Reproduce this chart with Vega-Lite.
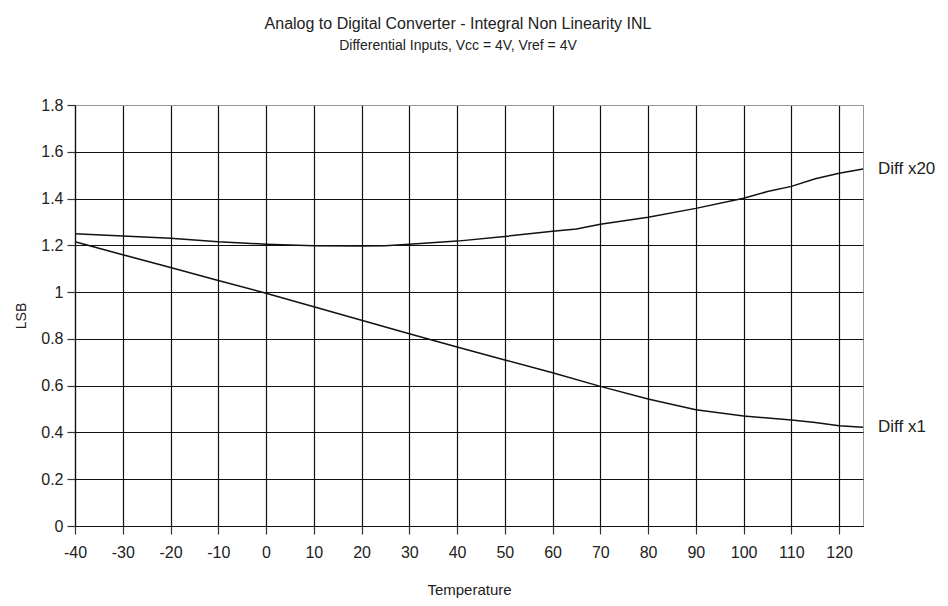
{
  "$schema": "https://vega.github.io/schema/vega-lite/v6.json",
  "autosize": "none",
  "width": 788,
  "height": 421,
  "padding": {"left": 75, "top": 105, "right": 85, "bottom": 80},
  "background": "white",
  "config": {"view": {"stroke": "#999999", "strokeWidth": 1}, "font": "Liberation Sans"},
  "title": {
    "text": "Analog to Digital Converter - Integral Non Linearity INL",
    "subtitle": "Differential Inputs, Vcc = 4V, Vref = 4V",
    "font": "Liberation Sans",
    "subtitleFont": "Liberation Sans",
    "fontSize": 16,
    "fontWeight": "normal",
    "subtitleFontSize": 14,
    "color": "#222",
    "subtitleColor": "#222",
    "subtitlePadding": 7,
    "anchor": "middle",
    "dx": -11,
    "offset": 44
  },
  "data": {"values": [
    {"t": -40, "v": 1.25, "s": "Diff x20"},
    {"t": -30, "v": 1.24, "s": "Diff x20"},
    {"t": -20, "v": 1.23, "s": "Diff x20"},
    {"t": -10, "v": 1.215, "s": "Diff x20"},
    {"t": 0, "v": 1.205, "s": "Diff x20"},
    {"t": 10, "v": 1.198, "s": "Diff x20"},
    {"t": 20, "v": 1.197, "s": "Diff x20"},
    {"t": 25, "v": 1.198, "s": "Diff x20"},
    {"t": 30, "v": 1.205, "s": "Diff x20"},
    {"t": 40, "v": 1.218, "s": "Diff x20"},
    {"t": 50, "v": 1.238, "s": "Diff x20"},
    {"t": 60, "v": 1.26, "s": "Diff x20"},
    {"t": 65, "v": 1.27, "s": "Diff x20"},
    {"t": 70, "v": 1.29, "s": "Diff x20"},
    {"t": 80, "v": 1.32, "s": "Diff x20"},
    {"t": 90, "v": 1.358, "s": "Diff x20"},
    {"t": 100, "v": 1.401, "s": "Diff x20"},
    {"t": 105, "v": 1.43, "s": "Diff x20"},
    {"t": 110, "v": 1.452, "s": "Diff x20"},
    {"t": 115, "v": 1.485, "s": "Diff x20"},
    {"t": 120, "v": 1.508, "s": "Diff x20"},
    {"t": 125, "v": 1.526, "s": "Diff x20"},
    {"t": -40, "v": 1.215, "s": "Diff x1"},
    {"t": -30, "v": 1.16, "s": "Diff x1"},
    {"t": -20, "v": 1.105, "s": "Diff x1"},
    {"t": -10, "v": 1.05, "s": "Diff x1"},
    {"t": 0, "v": 0.995, "s": "Diff x1"},
    {"t": 10, "v": 0.937, "s": "Diff x1"},
    {"t": 20, "v": 0.88, "s": "Diff x1"},
    {"t": 30, "v": 0.822, "s": "Diff x1"},
    {"t": 40, "v": 0.765, "s": "Diff x1"},
    {"t": 50, "v": 0.71, "s": "Diff x1"},
    {"t": 60, "v": 0.655, "s": "Diff x1"},
    {"t": 70, "v": 0.597, "s": "Diff x1"},
    {"t": 80, "v": 0.543, "s": "Diff x1"},
    {"t": 90, "v": 0.497, "s": "Diff x1"},
    {"t": 100, "v": 0.47, "s": "Diff x1"},
    {"t": 110, "v": 0.453, "s": "Diff x1"},
    {"t": 115, "v": 0.443, "s": "Diff x1"},
    {"t": 120, "v": 0.429, "s": "Diff x1"},
    {"t": 125, "v": 0.422, "s": "Diff x1"}
  ]},
  "encoding": {
    "x": {
      "field": "t", "type": "quantitative",
      "scale": {"domain": [-40, 125], "nice": false, "zero": false},
      "axis": {
        "title": "Temperature", "values": [-40,-30,-20,-10,0,10,20,30,40,50,60,70,80,90,100,110,120],
        "labelExpr": "'' + datum.value", "labelFlush": false, "labelOverlap": false,
        "grid": true, "gridColor": "#111", "gridOpacity": 1, "gridWidth": 1.2,
        "domainColor": "#111", "domainWidth": 1.2, "tickColor": "#333", "tickSize": 8, "tickWidth": 1.2,
        "labelFontSize": 16, "labelColor": "#222", "labelPadding": 10, "labelFont": "Liberation Sans",
        "titleFontSize": 15, "titleFontWeight": "normal", "titleColor": "#222", "titlePadding": 22, "titleFont": "Liberation Sans"
      }
    },
    "y": {
      "field": "v", "type": "quantitative",
      "scale": {"domain": [0, 1.8], "nice": false},
      "axis": {
        "title": "LSB", "values": [0,0.2,0.4,0.6,0.8,1,1.2,1.4,1.6,1.8],
        "labelExpr": "'' + datum.value", "labelOverlap": false,
        "grid": true, "gridOpacity": 1, "gridWidth": 1.2,
        "gridColor": {"condition": {"test": "datum.value >= 1.79", "value": "#999999"}, "value": "#111"},
        "domainColor": "#111", "domainWidth": 1.2, "tickColor": "#333", "tickSize": 8, "tickWidth": 1.2,
        "labelFontSize": 16, "labelColor": "#222", "labelPadding": 4, "labelFont": "Liberation Sans",
        "titleFontSize": 14, "titleFontWeight": "normal", "titleColor": "#222", "titlePadding": 12, "titleFont": "Liberation Sans"
      }
    }
  },
  "layer": [
    {
      "mark": {"type": "line", "color": "#111", "strokeWidth": 1.5},
      "encoding": {"detail": {"field": "s"}}
    },
    {
      "transform": [{"filter": "datum.t == 125"}],
      "mark": {"type": "text", "align": "left", "dx": 15, "fontSize": 17, "color": "#222", "font": "Liberation Sans"},
      "encoding": {"text": {"field": "s"}}
    }
  ]
}
